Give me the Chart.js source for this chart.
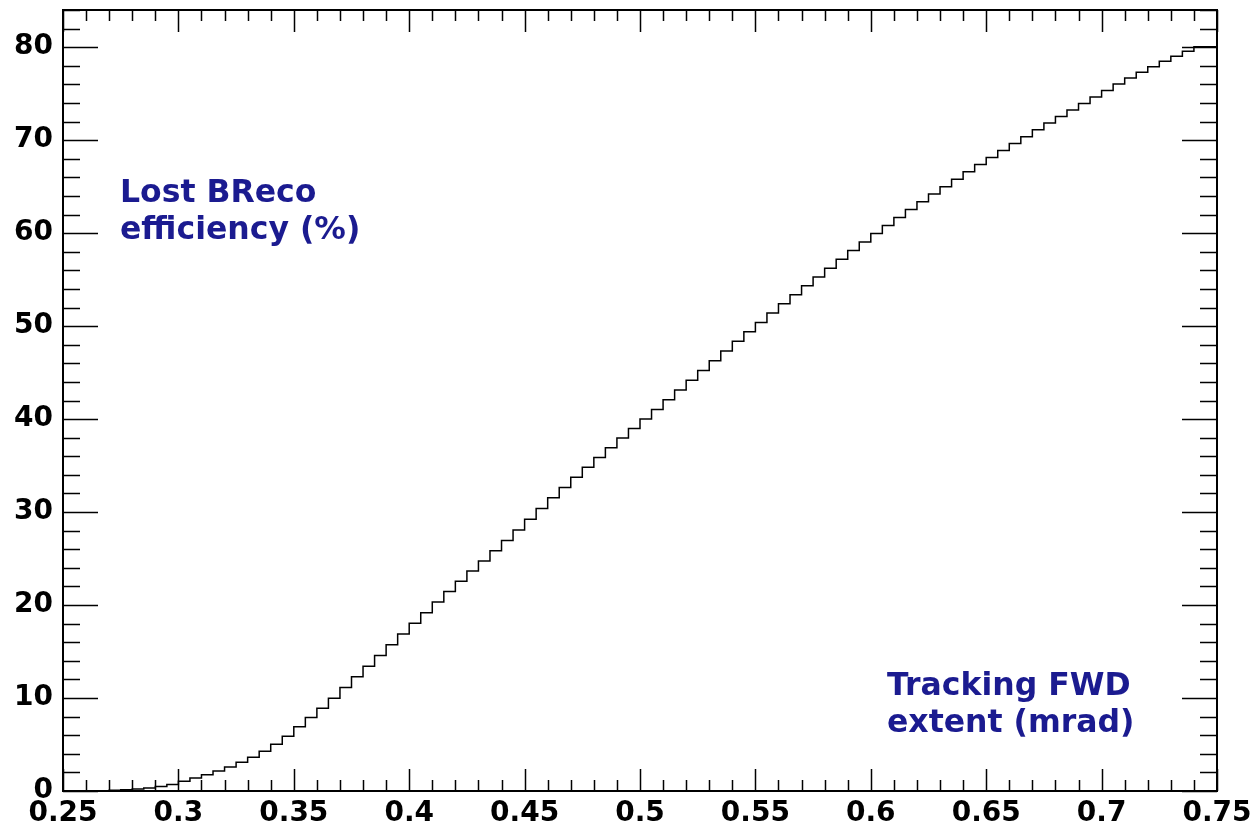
<!DOCTYPE html>
<html lang="en">
<head>
    <meta charset="UTF-8">
    <title>Lost BReco efficiency</title>
    <script src="https://cdn.jsdelivr.net/npm/chart.js"></script>
    <style>
        html, body { margin: 0; padding: 0; background: #fff; }
        #box { width: 1254px; height: 834px; }
    </style>
</head>
<body>
    <div id="box">
        <canvas id="myChart"></canvas>
    </div>
<script>
    // histogram: first bin low edge and bin width (mrad)
    var binLow = 0.27;
    var binWidth = 0.005;
    // lost BReco efficiency (%) per bin
    var lostEff = [
        0.03, 0.08, 0.14, 0.21, 0.33, 0.48, 0.71, 1.04, 1.39, 1.76,
        2.16, 2.59, 3.08, 3.63, 4.28, 5.03, 5.9, 6.9, 7.9, 8.9,
        9.98, 11.13, 12.28, 13.43, 14.58, 15.73, 16.88, 18.03, 19.18, 20.33,
        21.45, 22.55, 23.65, 24.75, 25.85, 26.95, 28.08, 29.23, 30.38, 31.53,
        32.65, 33.75, 34.83, 35.88, 36.93, 37.98, 39.0, 40.0, 41.03, 42.08,
        43.13, 44.18, 45.23, 46.28, 47.33, 48.38, 49.4, 50.4, 51.4, 52.4,
        53.38, 54.33, 55.28, 56.23, 57.18, 58.13, 59.05, 59.95, 60.83, 61.68,
        62.53, 63.38, 64.2, 65.0, 65.8, 66.6, 67.38, 68.13, 68.88, 69.63,
        70.38, 71.13, 71.85, 72.55, 73.25, 73.95, 74.65, 75.35, 76.03, 76.68,
        77.3, 77.9, 78.48, 79.03, 79.55, 80.05
    ];
    var xTicks = [0.25, 0.3, 0.35, 0.4, 0.45, 0.5, 0.55, 0.6, 0.65, 0.7, 0.75];
    var yTicks = [0, 10, 20, 30, 40, 50, 60, 70, 80];
    var yLabelLines = ['Lost BReco', 'efficiency (%)'];
    var xLabelLines = ['Tracking FWD', 'extent (mrad)'];

    // step points: left edge of every bin + closing right edge
    var pts = [];
    for (var i = 0; i < lostEff.length; i++) {
        pts.push({ x: +(binLow + i * binWidth).toFixed(4), y: lostEff[i] });
    }
    pts.push({ x: +(binLow + lostEff.length * binWidth).toFixed(4), y: lostEff[lostEff.length - 1] });

    var blue = '#1b1b90';
    var labelFont = 'bold 31.5px "DejaVu Sans"';

    // ROOT style frame: inward ticks on all four sides + box + text labels
    var rootFrame = {
        id: 'rootFrame',
        afterDatasetsDraw(chart) {
            var ctx = chart.ctx, a = chart.chartArea;
            var sx = chart.scales.x, sy = chart.scales.y;
            ctx.save();
            ctx.strokeStyle = '#000';
            ctx.lineWidth = 1.5;
            ctx.beginPath();
            for (var k = 0; k <= 50; k++) {
                var v = 0.25 + k * 0.01;
                var px = Math.round(sx.getPixelForValue(v)) + 0.5;
                var len = (k % 5 == 0) ? 22 : 11;
                ctx.moveTo(px, a.bottom); ctx.lineTo(px, a.bottom - len);
                ctx.moveTo(px, a.top); ctx.lineTo(px, a.top + len);
            }
            for (var m = 0; m <= 42; m++) {
                var yv = m * 2;
                var py = Math.round(sy.getPixelForValue(yv)) + 0.5;
                var ylen = (m % 5 == 0) ? 35 : 17;
                ctx.moveTo(a.left, py); ctx.lineTo(a.left + ylen, py);
                ctx.moveTo(a.right, py); ctx.lineTo(a.right - ylen, py);
            }
            ctx.stroke();
            ctx.lineWidth = 2;
            ctx.strokeRect(a.left, a.top, a.right - a.left, a.bottom - a.top);

            ctx.fillStyle = blue;
            ctx.font = labelFont;
            ctx.textAlign = 'left';
            ctx.textBaseline = 'alphabetic';
            ctx.fillText(yLabelLines[0], a.left + 57, 202);
            ctx.fillText(yLabelLines[1], a.left + 57, 239);
            ctx.fillText(xLabelLines[0], a.left + 824, 695);
            ctx.fillText(xLabelLines[1], a.left + 824, 732);
            ctx.restore();
        }
    };

    var tickFont = { family: 'DejaVu Sans', size: 28, weight: 'bold' };

    new Chart(document.getElementById('myChart'), {
        type: 'line',
        data: {
            datasets: [{
                label: 'Lost BReco efficiency',
                data: pts,
                stepped: 'after',
                borderColor: '#000',
                borderWidth: 1.5,
                pointRadius: 0,
                fill: false
            }]
        },
        options: {
            responsive: true,
            maintainAspectRatio: false,
            animation: false,
            layout: { padding: { top: 10, right: 37, left: 0, bottom: 0 } },
            plugins: {
                legend: { display: false },
                tooltip: { enabled: false }
            },
            scales: {
                x: {
                    type: 'linear',
                    min: 0.25,
                    max: 0.75,
                    grid: { display: false, drawTicks: false },
                    border: { display: false },
                    afterBuildTicks: function (s) { s.ticks = xTicks.map(function (v) { return { value: v }; }); },
                    afterFit: function (s) { s.height = 43; s.paddingLeft = 0; s.paddingRight = 0; },
                    ticks: {
                        color: '#000',
                        font: tickFont,
                        padding: 6,
                        maxRotation: 0,
                        autoSkip: false,
                        callback: function (v) { return String(+v.toFixed(2)); }
                    }
                },
                y: {
                    type: 'linear',
                    min: 0,
                    max: 84,
                    grid: { display: false, drawTicks: false },
                    border: { display: false },
                    afterBuildTicks: function (s) { s.ticks = yTicks.map(function (v) { return { value: v }; }); },
                    afterFit: function (s) { s.width = 63; s.paddingTop = 0; s.paddingBottom = 0; },
                    ticks: {
                        color: '#000',
                        font: tickFont,
                        padding: 10,
                        autoSkip: false,
                        callback: function (v) { return String(v); }
                    }
                }
            }
        },
        plugins: [rootFrame]
    });
</script>
</body>
</html>
